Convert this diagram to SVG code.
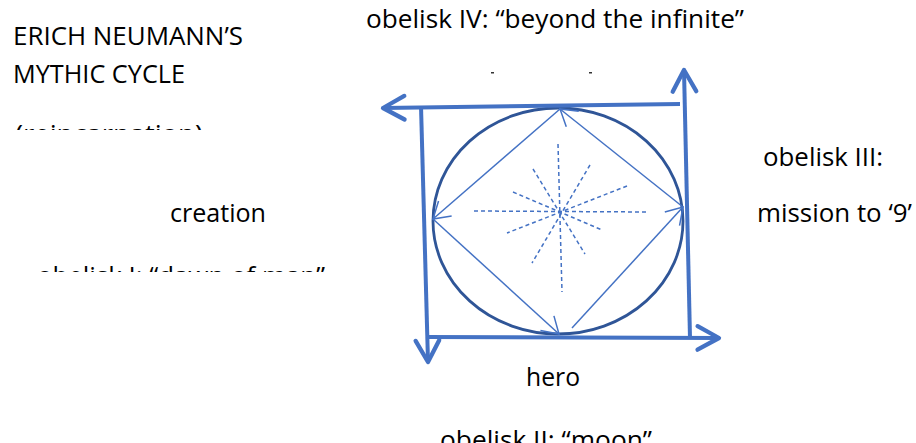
<svg xmlns="http://www.w3.org/2000/svg" width="916" height="443" viewBox="0 0 916 443">
<style>
text{font-family:"Open Sans","Noto Sans","Liberation Sans",sans-serif;font-size:26px;fill:#000}
.thick{fill:none;stroke:#4472C4;stroke-width:4}
.thin{fill:none;stroke:#4472C4;stroke-width:1.5}
.ray{fill:none;stroke:#4472C4;stroke-width:1.5;stroke-dasharray:4 3}
</style>
<defs>
<marker id="bigArrow" markerUnits="userSpaceOnUse" orient="auto" markerWidth="30" markerHeight="30" refX="0" refY="0" viewBox="-24 -14 28 28" overflow="visible">
<path d="M-20,-11 L0,0 L-20,11" fill="none" stroke="#4472C4" stroke-width="4" stroke-linecap="round" stroke-linejoin="round"/>
</marker>
<marker id="smallArrow" markerUnits="userSpaceOnUse" orient="auto" markerWidth="24" markerHeight="24" refX="0" refY="0" viewBox="-20 -12 22 24" overflow="visible">
<path d="M-16,-10 L0,0 L-16,10" fill="none" stroke="#4472C4" stroke-width="1.5"/>
</marker>
<clipPath id="clipReinc"><rect x="0" y="110" width="300" height="20"/></clipPath>
<clipPath id="clipOb1"><rect x="0" y="250" width="360" height="22"/></clipPath>
</defs>

<g id="title">
<text x="13" y="45" textLength="230" lengthAdjust="spacingAndGlyphs">ERICH NEUMANN’S</text>
<text x="13" y="83" textLength="172" lengthAdjust="spacingAndGlyphs">MYTHIC CYCLE</text>
<g clip-path="url(#clipReinc)"><text x="15" y="143" textLength="188" lengthAdjust="spacingAndGlyphs">(reincarnation)</text></g>
</g>

<g id="label-creation">
<text x="170" y="222" textLength="96" lengthAdjust="spacingAndGlyphs">creation</text>
<g clip-path="url(#clipOb1)"><text x="37" y="285" textLength="288" lengthAdjust="spacingAndGlyphs">obelisk I: “dawn of man”</text></g>
</g>

<g id="label-top">
<text x="366" y="28" textLength="378" lengthAdjust="spacingAndGlyphs">obelisk IV: “beyond the infinite”</text>
<rect x="491" y="72" width="3" height="1.5" fill="#333"/>
<rect x="589" y="72" width="3" height="1.5" fill="#333"/>
</g>

<g id="label-right">
<text x="763" y="166" textLength="120" lengthAdjust="spacingAndGlyphs">obelisk III:</text>
<text x="757" y="222" textLength="155" lengthAdjust="spacingAndGlyphs">mission to ‘9’</text>
</g>

<g id="label-bottom">
<text x="526" y="386" textLength="54" lengthAdjust="spacingAndGlyphs">hero</text>
<text x="440" y="449" textLength="212" lengthAdjust="spacingAndGlyphs">obelisk II: “moon”</text>
</g>

<g id="circle">
<ellipse cx="558" cy="221" rx="125" ry="113" fill="none" stroke="#2F5597" stroke-width="2.8"/>
</g>

<g id="rays">
<line class="ray" x1="474" y1="211" x2="647" y2="212"/>
<line class="ray" x1="558" y1="144" x2="562" y2="292"/>
<line class="ray" x1="533" y1="169" x2="585" y2="254"/>
<line class="ray" x1="590" y1="165" x2="532" y2="263"/>
<line class="ray" x1="513" y1="192" x2="602" y2="230"/>
<line class="ray" x1="627" y1="186" x2="507" y2="233"/>
</g>

<g id="connectors">
<line class="thick" x1="680" y1="104" x2="383" y2="108" marker-end="url(#bigArrow)"/>
<line class="thick" x1="421" y1="106" x2="428" y2="362" marker-end="url(#bigArrow)"/>
<line class="thick" x1="426" y1="337" x2="719" y2="338" marker-end="url(#bigArrow)"/>
<line class="thick" x1="690" y1="338" x2="684" y2="70" marker-end="url(#bigArrow)"/>
<line class="thin" x1="683" y1="207" x2="560" y2="109" marker-end="url(#smallArrow)"/>
<line class="thin" x1="560" y1="109" x2="433" y2="219" marker-end="url(#smallArrow)"/>
<line class="thin" x1="433" y1="219" x2="559" y2="334" marker-end="url(#smallArrow)"/>
<line class="thin" x1="572" y1="328" x2="683" y2="207" marker-end="url(#smallArrow)"/>
</g>
</svg>
